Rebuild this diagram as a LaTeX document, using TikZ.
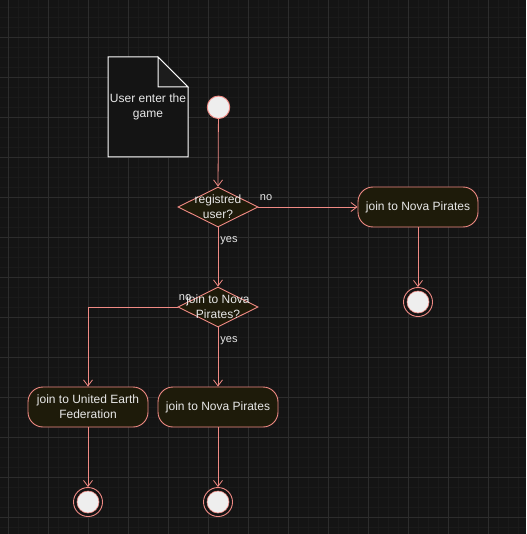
\documentclass[tikz,border=0pt]{standalone}
\usepackage{fontspec}
\setmainfont{Liberation Sans}
\usetikzlibrary{shapes.geometric,arrows.meta}
\definecolor{bg}{HTML}{141414}
\definecolor{gridmin}{HTML}{1A1A1A}
\definecolor{gridmaj}{HTML}{2C2C2C}
\definecolor{edge}{HTML}{F08A84}
\definecolor{boxfill}{HTML}{1E1B0A}
\definecolor{txt}{HTML}{E8E8E8}
\definecolor{dot}{HTML}{EEEEEE}
\definecolor{fold}{HTML}{1C1C1C}
\tikzset{
  every node/.style={font=\fontsize{12}{15}\selectfont, text=txt},
  flow/.style={draw=edge, line width=0.8pt, -{Straight Barb[length=6pt,width=9pt,line width=0.8pt]}},
  actbox/.style={draw=edge, fill=boxfill, line width=0.9pt, rounded corners=15pt, minimum width=120pt, minimum height=40pt, align=center, inner sep=2pt},
  dia/.style={draw=edge, fill=boxfill, line width=0.9pt, diamond, aspect=2, minimum width=80pt, minimum height=40pt, inner sep=0pt},
  diatext/.style={align=center, inner sep=0pt},
  lbl/.style={font=\fontsize{11}{12}\selectfont, inner sep=0pt},
  startdot/.style={circle, draw=edge, fill=dot, line width=0.9pt, minimum size=22.5pt, inner sep=0pt},
  enddot/.style={circle, draw=edge, fill=bg, line width=0.9pt, minimum size=29pt, inner sep=0pt},
  enddotin/.style={circle, draw=edge, fill=dot, line width=0.6pt, minimum size=22pt, inner sep=0pt},
}
\begin{document}
\begin{tikzpicture}[x=1pt,y=-1pt]
\fill[bg] (0,0) rectangle (526,534);
\useasboundingbox (0,0) rectangle (526,534);
\foreach \i in {0,...,52} {
  \draw[gridmin, line width=0.6pt] ({8+10*\i},0) -- ({8+10*\i},534);
}
\foreach \i in {0,...,53} {
  \draw[gridmin, line width=0.6pt] (0,{-3+10*\i}) -- (526,{-3+10*\i});
}
\foreach \i in {0,...,13} {
  \draw[gridmaj, line width=0.8pt] ({8+40*\i},0) -- ({8+40*\i},534);
  \draw[gridmaj, line width=0.8pt] (0,{-3+40*\i}) -- (526,{-3+40*\i});
}
% note
\draw[white, fill=bg, line width=1pt] (108,57) -- (158,57) -- (188,87) -- (188,157) -- (108,157) -- cycle;
\draw[white, fill=fold, line width=1pt] (158,57) -- (158,87) -- (188,87) -- cycle;
\node[align=center] (note) at (148,107) {User enter the\\game};

% nodes
\node[startdot] (start) at (218.5,107.3) {};
\node[dia] (d1) at (218,207) {};
\node[diatext] (d1t) at (218,207) {registred\\user?};
\node[actbox] (a1) at (418,207) {join to Nova Pirates};
\node[enddot] (e1) at (418,302) {};
\node[enddotin] (e1i) at (418,302) {};
\node[dia] (d2) at (218,307) {};
\node[diatext] (d2t) at (218,307) {join to Nova\\Pirates?};
\node[actbox] (a2) at (88,407) {join to United Earth\\Federation};
\node[actbox] (a3) at (218,407) {join to Nova Pirates};
\node[enddot] (e2) at (88,502) {};
\node[enddotin] (e2i) at (88,502) {};
\node[enddot] (e3) at (218,502) {};
\node[enddotin] (e3i) at (218,502) {};
\coordinate (bend) at (88,307);

% connectors
\draw[flow] (start) -- (d1.north);
\draw[flow] (d1.east) -- (a1.west);
\draw[flow] (a1) -- (e1);
\draw[flow] (d1.south) -- (d2.north);
\draw[flow] (d2.south) -- (a3.north);
\draw[flow] (d2.west) -- (bend) -- (a2.north);
\draw[flow] (a2) -- (e2);
\draw[flow] (a3) -- (e3);

% labels
\node[lbl] (no1) at (266,198) {no};
\node[lbl] (yes1) at (229,241) {yes};
\node[lbl] (no2) at (185,298) {no};
\node[lbl] (yes2) at (229,341) {yes};
\end{tikzpicture}
\end{document}
